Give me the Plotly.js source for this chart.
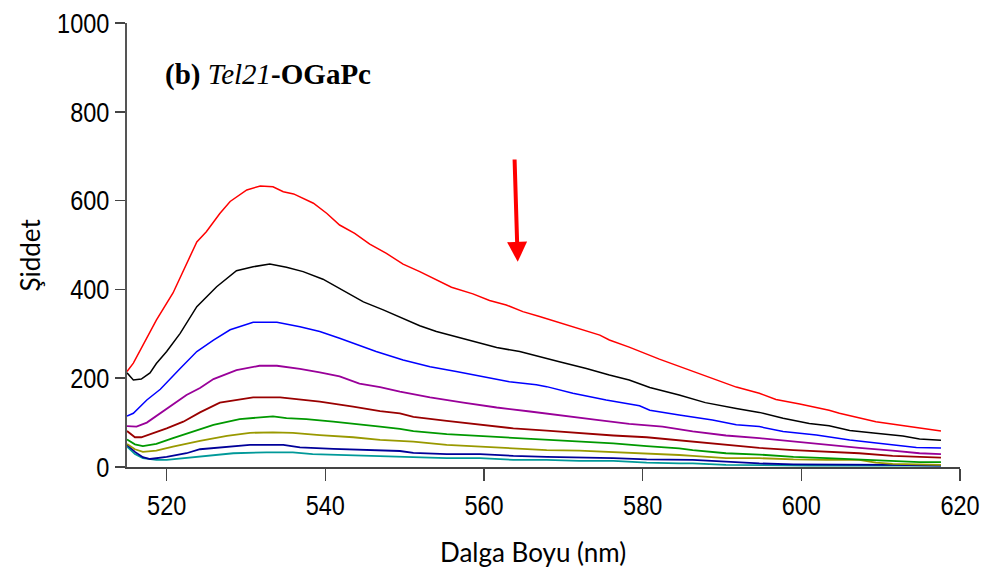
<!DOCTYPE html>
<html>
<head>
<meta charset="utf-8">
<script src="https://cdn.plot.ly/plotly-3.0.1.min.js"></script>
<style>html,body{margin:0;padding:0;background:#fff;}#chart{width:1000px;height:575px;}</style>
</head>
<body>
<div id="chart"></div>
<script>
// Wavelength (nm) / intensity samples, one pair of arrays per curve
const redX = [515,515.8,518.7,520.8,523.8,525,526.7,528,530.1,531.8,533.4,534.7,536,538.5,540.2,541.8,543.7,545.6,547.7,549.8,551.9,554,555.9,558.6,560.7,562.8,564.9,567,569.5,572,574.6,575.8,578.3,582.1,585.9,588.4,591.8,594.7,596.8,599.8,603.5,604.8,609.4,613.6,617.6];
const redY = [215,234,331,392,507,530,571,598,624,633,631,620,615,594,571,545,526,502,481,457,440,421,405,390,375,365,350,339,325,312,297,286,270,243,218,202,180,166,152,142,128,121,102,91,81];

const blackX = [515,515.8,516.8,517.9,518.7,520,521.7,523.8,526.3,528.8,530.9,533,535.1,537.2,539.7,541.8,544.8,547.3,549.8,551.9,554,556.5,559,561.6,564.5,566.6,569.5,572.9,575.8,578.3,580.9,584.6,587.9,591.8,594.7,597.7,601,603.5,606.1,609.4,612.8,614.9,617.6];
const blackY = [212,196,198,212,233,260,301,361,406,442,451,457,450,440,423,402,372,354,335,318,305,293,280,269,260,250,237,222,207,196,179,162,145,132,123,110,98,93,82,76,70,63,60];

const blueX = [515,515.8,517.5,519.2,521.7,523.8,525.9,528,530.9,533.9,536.8,539.3,541.8,543.1,546.4,549.8,553.2,556.5,559.9,563.2,566.6,567.9,571.2,575.4,579.6,580.9,584.6,588.8,591.8,594.7,597.7,601.9,606.1,610.3,614.5,617.6];
const blueY = [115,121,151,175,222,260,286,309,326,326,316,305,290,282,260,241,226,215,203,192,185,181,166,151,138,128,117,106,95,91,80,72,61,53,44,43];

const purpleX = [515,516.2,517.5,519.2,520.8,522.5,524.2,525.9,528.8,531.7,533.9,536.8,539.3,541.8,544.3,546.9,549.4,553.2,557.4,561.6,565.8,570,574.2,578.3,582.5,586.3,590.5,594.7,599,603.2,607.3,611.5,614.9,617.6];
const purpleY = [92,91,100,121,140,162,178,198,218,228,228,221,213,204,188,180,170,157,145,134,125,115,106,97,91,80,71,65,57,50,43,37,31,29];

const darkredX = [515,516,516.8,518.3,520,522.1,524.2,526.7,529.2,530.9,534.3,536.8,539.3,543.5,546.9,549.4,551.1,555.3,559.5,563.7,567.9,572,576.3,580.5,584.6,586.3,590.5,594.7,599,603.2,607.3,611.5,614.9,617.6];
const darkredY = [81,67,67,76,87,102,123,145,152,157,157,152,147,136,126,121,113,104,95,87,82,76,71,67,60,57,50,43,38,34,31,25,22,21];

const greenX = [515,516,517,518.7,520.8,523.4,525.9,529.2,530.9,533.4,535.1,537.6,541,544.3,546.9,549.4,551.1,555.3,559.5,563.7,567.9,572,576.3,580.5,584.6,586.3,590.5,594.7,599,603.2,607.3,611.5,614.9,617.6];
const greenY = [62,51,47,52,65,80,95,108,111,114,110,108,102,95,91,86,81,74,70,65,61,57,53,47,42,38,31,28,23,20,17,13,11,11];

const oliveX = [515,516,517,518.7,520.8,524.2,527.6,530.5,533.4,535.9,539.3,543.5,546.9,549.4,551.1,555.3,559.5,563.7,567.9,572,576.3,580.5,584.6,586.3,590.5,594.7,599,603.2,607.3,609.4,611.5,617.6];
const oliveY = [52,40,34,37,46,59,70,77,78,77,72,67,61,59,57,50,46,42,38,37,34,31,27,25,20,20,17,16,16,10,7,5];

const navyX = [515,516,517,517.9,520,522.5,524.2,528.4,530.5,534.7,536.8,541,545.2,549.4,551.1,555.3,559.5,563.7,567.9,572,576.3,580.5,584.6,586.3,590.5,594.7,599,603.2,607.3,611.5,617.6];
const navyY = [50,34,22,18,23,31,40,46,50,50,44,41,38,36,32,29,29,25,23,22,20,17,16,16,12,8,6,6,5,5,3];

const tealX = [515,516,517,518.7,520,522.5,525,528.4,532.6,535.9,538.4,543,549.4,551.1,555.3,559.5,563.7,567.9,572,576.3,580.5,584.6,586.3,590.5,601,617.6];
const tealY = [46,29,20,16,16,20,25,31,33,33,29,27,23,22,20,20,16,16,14,14,10,8,8,5,3,3];

const xTicks = [520,540,560,580,600,620];
const yTicks = [0,200,400,600,800,1000];

const series = [
  {x: redX, y: redY, color: '#ff0000', w: 1.5},
  {x: blackX, y: blackY, color: '#000000', w: 1.5},
  {x: blueX, y: blueY, color: '#0000ff', w: 1.5},
  {x: purpleX, y: purpleY, color: '#990099', w: 1.8},
  {x: darkredX, y: darkredY, color: '#990000', w: 1.8},
  {x: greenX, y: greenY, color: '#009900', w: 1.8},
  {x: oliveX, y: oliveY, color: '#999900', w: 1.8},
  {x: navyX, y: navyY, color: '#000099', w: 1.8},
  {x: tealX, y: tealY, color: '#009999', w: 1.8}
];

const traces = series.slice().reverse().map(s => ({
  type: 'scatter', mode: 'lines', x: s.x, y: s.y,
  line: {color: s.color, width: s.w}, showlegend: false, hoverinfo: 'skip'
}));

const tickFont = {family: '"Liberation Sans", Arial, sans-serif', size: 28, color: '#000'};
const titleFont = {family: 'Lato, "Liberation Sans", Arial, sans-serif', size: 26, color: '#000'};

const layout = {
  width: 1000, height: 575,
  margin: {l: 127, r: 40, t: 23, b: 108},
  paper_bgcolor: '#fff', plot_bgcolor: '#fff',
  showlegend: false,
  xaxis: {
    range: [515, 620], tickvals: xTicks, ticktext: xTicks.map(String),
    showgrid: false, zeroline: false, showline: true, linecolor: '#444', linewidth: 2,
    ticks: 'outside', ticklen: 12, tickwidth: 1.5, tickcolor: '#444',
    tickfont: tickFont
  },
  yaxis: {
    range: [0, 1000], tickvals: yTicks, ticktext: yTicks.map(String),
    showgrid: false, zeroline: false, showline: true, linecolor: '#555', linewidth: 2,
    ticks: 'outside', ticklen: 10, tickwidth: 1.5, tickcolor: '#444',
    tickfont: tickFont
  },
  annotations: [
    {
      xref: 'paper', yref: 'paper', x: 0.487, y: -0.191, xanchor: 'center', yanchor: 'middle',
      text: 'Dalga Boyu (nm)', showarrow: false, font: titleFont
    },
    {
      xref: 'paper', yref: 'paper', x: -0.116, y: 0.477, xanchor: 'center', yanchor: 'middle',
      text: 'Şiddet', textangle: -90, showarrow: false, font: titleFont
    },
    {
      xref: 'paper', yref: 'paper', x: 0.043, y: 0.883, xanchor: 'left', yanchor: 'middle',
      text: '<b>(b)</b> <i>Tel21</i><b>-OGaPc</b>', showarrow: false,
      font: {family: '"Liberation Serif", "Times New Roman", serif', size: 29, color: '#000'}
    },
    {
      xref: 'x', yref: 'y', axref: 'x', ayref: 'y',
      x: 564.25, y: 462, ax: 563.85, ay: 696,
      text: '', showarrow: true, arrowhead: 2, arrowsize: 1, arrowwidth: 4,
      arrowcolor: '#ff0000', standoff: 0, startstandoff: 0
    }
  ]
};

Plotly.newPlot('chart', traces, layout, {displayModeBar: false, staticPlot: true}).then(gd => {
  // condense the tick labels horizontally, like the narrow face used in the reference
  gd.querySelectorAll('.xtick text, .ytick text').forEach(t => {
    const w = t.getComputedTextLength();
    t.setAttribute('textLength', (w * 0.84).toFixed(1));
    t.setAttribute('lengthAdjust', 'spacingAndGlyphs');
  });
});
</script>
</body>
</html>
